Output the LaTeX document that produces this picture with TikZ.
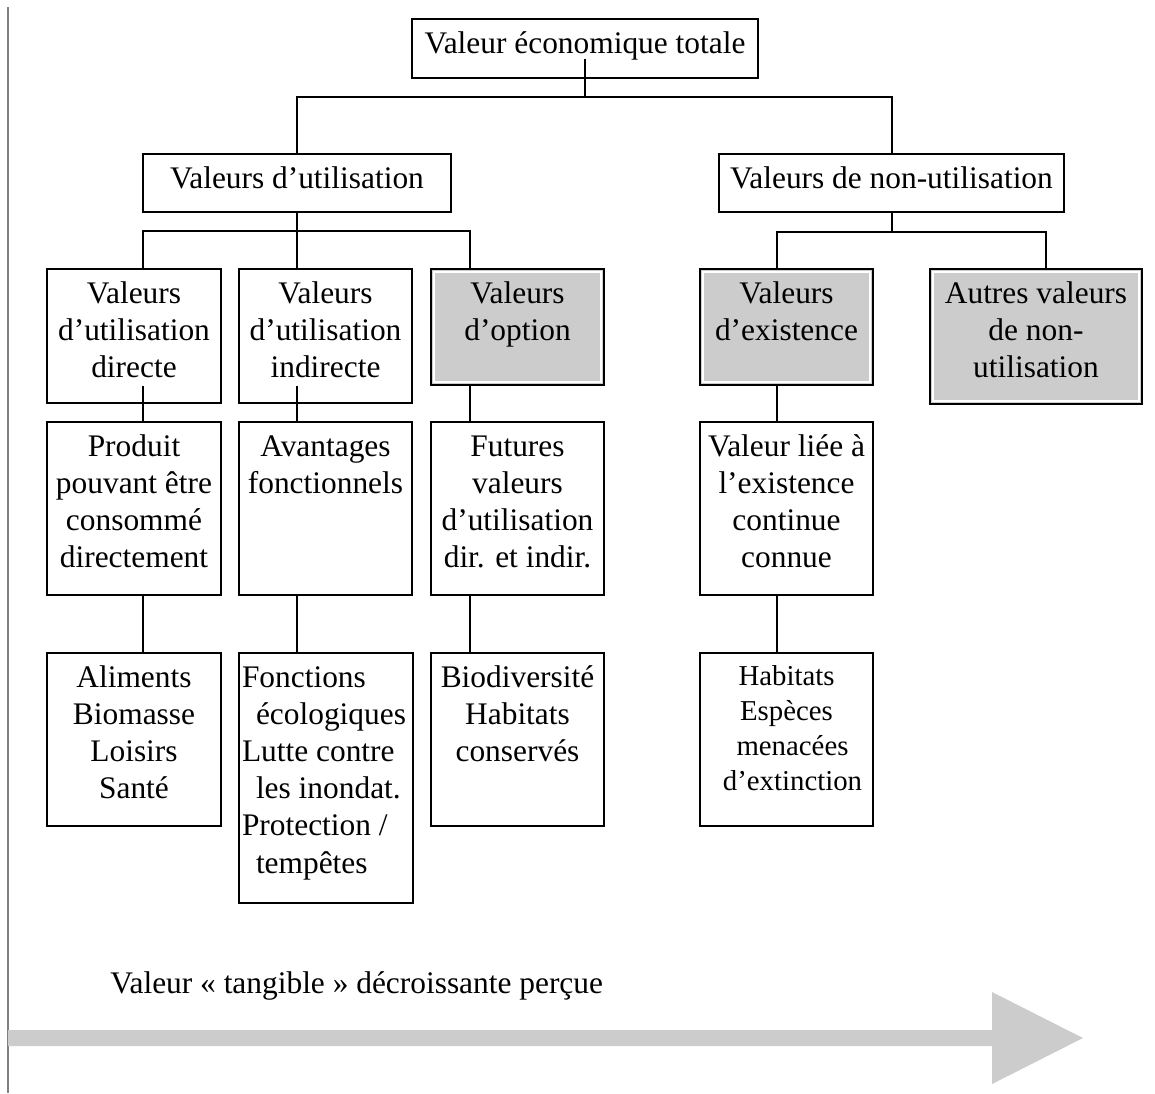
\documentclass[tikz,border=0pt]{standalone}
\usepackage{fontspec}
\setmainfont{Liberation Serif}
\usetikzlibrary{calc}
\definecolor{boxgray}{HTML}{CCCCCC}
\definecolor{sidegray}{HTML}{808080}
\newcommand\bxt[3]{\parbox[c][#2][t]{#1}{\centering\rule{0pt}{17pt}#3\par}}
\newcommand\bxl[3]{\parbox[c][#2][t]{#1}{\raggedright\rule{0pt}{17pt}#3\par}}
\newcommand\bxs[3]{\parbox[c][#2][t]{#1}{\fontsize{14.4}{17.5}\selectfont\centering\rule{0pt}{16pt}#3\par}}
\tikzset{
  every node/.style={font=\fontsize{15.7}{18.6}\selectfont, inner sep=0pt},
  box/.style={draw, line width=1pt},
  shbox/.style={draw, line width=1pt, fill=boxgray,
    path picture={\draw[white, line width=0.8pt]
      ([shift={(1.4pt,1.4pt)}]path picture bounding box.south west) rectangle
      ([shift={(-1.4pt,-1.4pt)}]path picture bounding box.north east);}},
  conn/.style={line width=1pt},
}
\begin{document}
\begin{tikzpicture}[x=0.5pt,y=-0.5pt]
\useasboundingbox (0,0) rectangle (1155,1093);
% side rule and big arrow
\draw[sidegray, line width=1pt] (8,7) -- (8,1093);
\fill[boxgray] (8,1030) -- (992,1030) -- (992,992) -- (1083,1038) -- (992,1084) -- (992,1046) -- (8,1046) -- cycle;
\node[anchor=base west] (caption) at (110,993) {Valeur « tangible » décroissante perçue};

% boxes
\node[box] (vet) at (585,48.5) {\bxt{173pt}{29.5pt}{Valeur économique totale}};
\node[box] (use) at (297,183) {\bxt{154pt}{29pt}{Valeurs d’utilisation}};
\node[box] (nonuse) at (891.5,183) {\bxt{172.5pt}{29pt}{Valeurs de non-utilisation}};

\node[box] (b1) at (134,336) {\bxt{87pt}{67pt}{Valeurs\\d’utilisation\\directe}};
\node[box] (b2) at (325.5,336) {\bxt{86.5pt}{67pt}{Valeurs\\d’utilisation\\indirecte}};
\node[shbox] (b3) at (517.5,327) {\bxt{86.5pt}{58pt}{Valeurs\\d’option}};
\node[shbox] (b4) at (786.5,327) {\bxt{86.5pt}{58pt}{Valeurs\\d’existence}};
\node[shbox] (b5) at (1036,336.5) {\bxt{106pt}{67.5pt}{Autres valeurs\\de non-\\utilisation}};

\node[box] (c1) at (134,508.5) {\bxt{87pt}{86.5pt}{Produit\\pouvant être\\consommé\\directement}};
\node[box] (c2) at (325.5,508.5) {\bxt{86.5pt}{86.5pt}{Avantages\\fonctionnels}};
\node[box] (c3) at (517.5,508.5) {\bxt{86.5pt}{86.5pt}{Futures\\valeurs\\d’utilisation\\dir. et indir.}};
\node[box] (c4) at (786.5,508.5) {\bxt{86.5pt}{86.5pt}{Valeur liée à\\l’existence\\continue\\connue}};

\node[box] (d1) at (134,739.5) {\bxt{87pt}{86.5pt}{Aliments\\Biomasse\\Loisirs\\Santé}};
\node[box] (d2) at (326,778) {\bxl{87pt}{125pt}{\hspace*{1.5pt}Fonctions\\\hspace*{8.5pt}écologiques\\\hspace*{1.5pt}Lutte contre\\\hspace*{8.5pt}les inondat.\\\hspace*{1.5pt}Protection /\\\hspace*{8.5pt}tempêtes}};
\node[box] (d3) at (517.5,739.5) {\bxt{86.5pt}{86.5pt}{Biodiversité\\Habitats\\conservés}};
\node[box] (d4) at (786.5,739.5) {\bxs{86.5pt}{86.5pt}{Habitats\\Espèces\\\hspace*{6pt}menacées\\\hspace*{6pt}d’extinction}};

% column positions and junctions
\coordinate (k1) at (143,0);
\coordinate (k2) at (297,0);
\coordinate (k3) at (470,0);
\coordinate (k4) at (777,0);
\coordinate (k5) at (1046,0);
\coordinate (j1) at (585,97);
\coordinate (j2) at (297,231);
\coordinate (j3) at (891.5,232);

% connectors
\draw[conn] ($(vet.south)+(0,-20)$) -- (j1);
\draw[conn] (use.north) |- (j1) -| (nonuse.north);
\draw[conn] (use.south) -- (k2 |- b2.north);
\draw[conn] (k1 |- b1.north) |- (j2) -| (k3 |- b3.north);
\draw[conn] (nonuse.south) -- (j3);
\draw[conn] (k4 |- b4.north) |- (j3) -| (k5 |- b5.north);

\draw[conn] ($(k1 |- b1.south)+(0,-18)$) -- (k1 |- c1.north);
\draw[conn] ($(k2 |- b2.south)+(0,-18)$) -- (k2 |- c2.north);
\draw[conn] (k3 |- b3.south) -- (k3 |- c3.north);
\draw[conn] (k4 |- b4.south) -- (k4 |- c4.north);

\draw[conn] (k1 |- c1.south) -- (k1 |- d1.north);
\draw[conn] (k2 |- c2.south) -- (k2 |- d2.north);
\draw[conn] (k3 |- c3.south) -- (k3 |- d3.north);
\draw[conn] (k4 |- c4.south) -- (k4 |- d4.north);
\end{tikzpicture}
\end{document}
